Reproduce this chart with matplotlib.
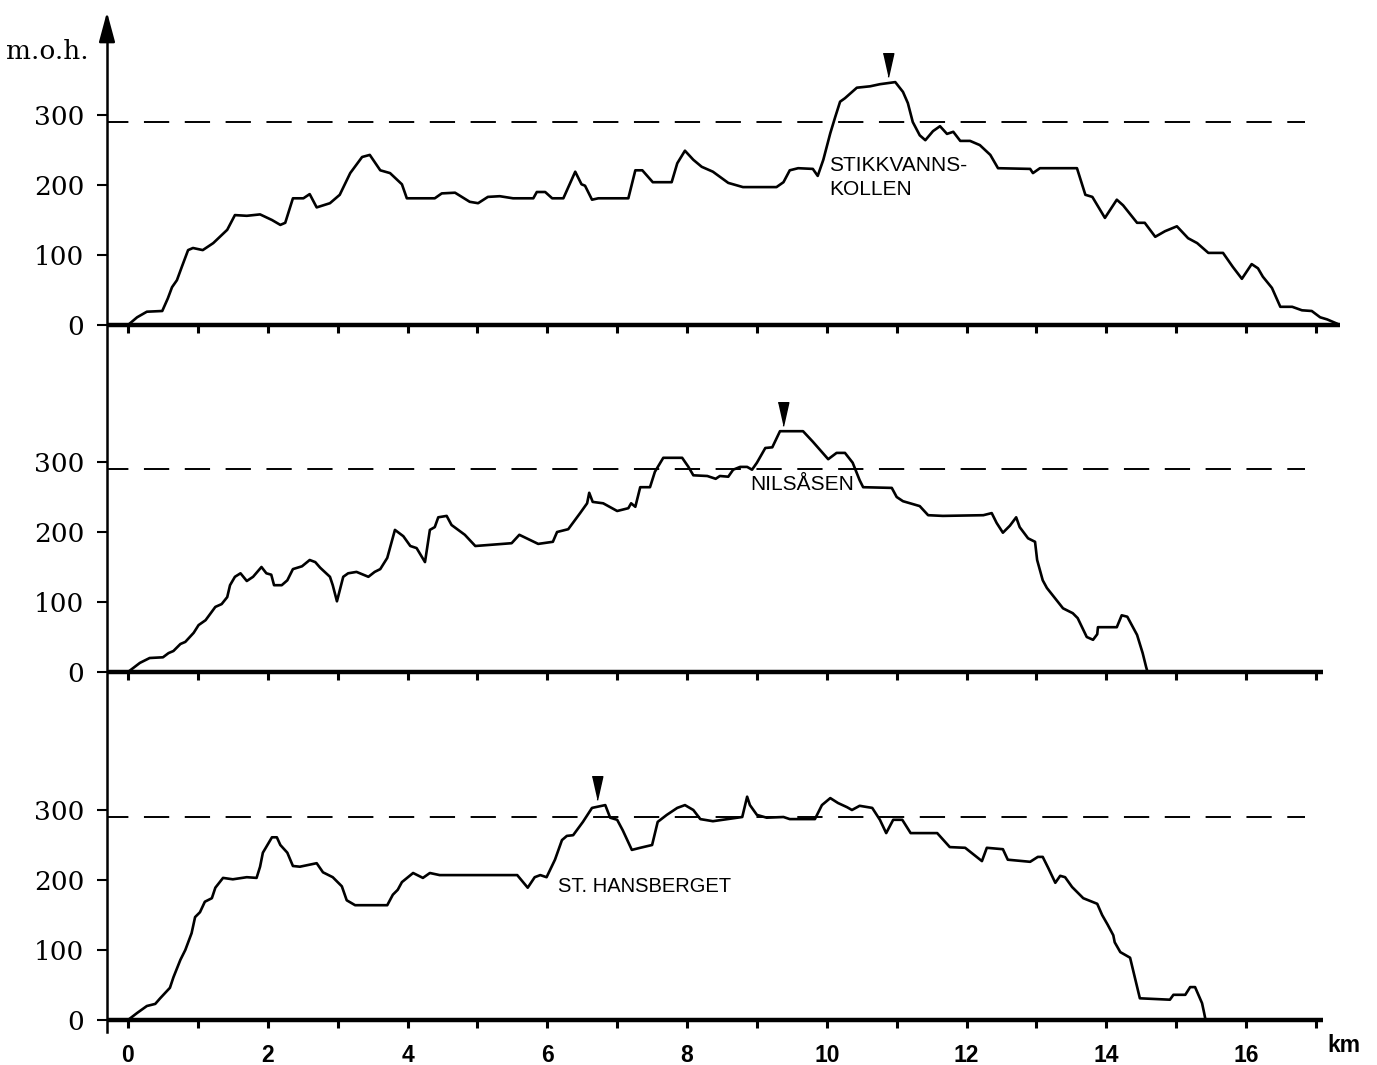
import matplotlib.pyplot as plt
from matplotlib import transforms

# Profiler (km langs profilet, meter over havet)
top_km = [0, 0.13, 0.27, 0.49, 0.57, 0.63, 0.70, 0.77, 0.86, 0.93,
          1.07, 1.22, 1.42, 1.53, 1.70, 1.89, 2.06, 2.18, 2.25, 2.36,
          2.51, 2.60, 2.70, 2.89, 3.03, 3.18, 3.35, 3.46, 3.61, 3.75,
          3.92, 3.99, 4.39, 4.49, 4.68, 4.89, 5.01, 5.15, 5.32, 5.51,
          5.80, 5.85, 5.97, 6.07, 6.23, 6.40, 6.49, 6.54, 6.64, 6.73,
          7.16, 7.26, 7.36, 7.51, 7.78, 7.86, 7.97, 8.09, 8.21, 8.37,
          8.59, 8.80, 9.28, 9.38, 9.47, 9.59, 9.80, 9.87, 9.95, 10.05,
          10.12, 10.19, 10.26, 10.43, 10.62, 10.76, 10.98, 11.09, 11.16, 11.23,
          11.33, 11.41, 11.52, 11.62, 11.72, 11.81, 11.91, 12.05, 12.19, 12.34,
          12.45, 12.91, 12.95, 13.05, 13.58, 13.70, 13.80, 13.98, 14.15, 14.24,
          14.44, 14.55, 14.70, 14.84, 15.01, 15.17, 15.30, 15.46, 15.67, 15.81,
          15.94, 16.08, 16.17, 16.24, 16.37, 16.49, 16.66, 16.80, 16.94, 17.06,
          17.16, 17.30]
top_m = [0, 11, 19, 20, 38, 54, 64, 83, 107, 110,
         107, 117, 136, 157, 156, 158, 150, 143, 146, 181,
         181, 187, 168, 174, 186, 217, 240, 243, 221, 217,
         201, 181, 181, 188, 189, 176, 174, 183, 184, 181,
         181, 190, 190, 181, 181, 219, 201, 199, 179, 181,
         181, 221, 221, 204, 204, 231, 249, 236, 226, 219,
         203, 197, 197, 204, 221, 224, 223, 213, 236, 274,
         297, 319, 324, 339, 341, 344, 347, 333, 317, 290,
         271, 264, 277, 284, 273, 276, 263, 263, 257, 243,
         224, 223, 217, 224, 224, 186, 183, 153, 179, 171,
         146, 146, 126, 134, 141, 124, 117, 103, 103, 83,
         66, 87, 81, 69, 53, 26, 26, 21, 20, 11,
         8, 2]

mid_km = [0, 0.17, 0.31, 0.50, 0.58, 0.65, 0.75, 0.82, 0.94, 1.01,
          1.11, 1.25, 1.34, 1.42, 1.46, 1.53, 1.61, 1.70, 1.79, 1.91,
          1.98, 2.05, 2.09, 2.20, 2.28, 2.36, 2.49, 2.60, 2.68, 2.75,
          2.89, 2.93, 2.99, 3.08, 3.15, 3.27, 3.44, 3.53, 3.61, 3.71,
          3.82, 3.94, 4.04, 4.13, 4.25, 4.32, 4.39, 4.44, 4.56, 4.63,
          4.82, 4.97, 5.49, 5.60, 5.87, 6.08, 6.14, 6.30, 6.47, 6.57,
          6.60, 6.65, 6.80, 7.00, 7.16, 7.20, 7.26, 7.33, 7.47, 7.54,
          7.66, 7.93, 8.02, 8.09, 8.29, 8.41, 8.47, 8.59, 8.66, 8.76,
          8.86, 8.93, 9.00, 9.12, 9.22, 9.33, 9.66, 9.80, 10.02, 10.14,
          10.26, 10.37, 10.47, 10.52, 10.93, 11.00, 11.09, 11.33, 11.45, 11.66,
          12.24, 12.36, 12.43, 12.52, 12.62, 12.71, 12.76, 12.88, 12.98, 13.01,
          13.09, 13.15, 13.38, 13.52, 13.59, 13.72, 13.81, 13.87, 13.88, 14.15,
          14.22, 14.30, 14.44, 14.52, 14.57, 14.59]
mid_m = [0, 13, 20, 21, 27, 30, 40, 43, 56, 67,
         74, 93, 97, 107, 124, 136, 141, 130, 136, 150,
         141, 139, 124, 124, 131, 147, 151, 160, 157, 149,
         136, 124, 101, 136, 141, 143, 136, 143, 147, 163,
         203, 194, 180, 177, 157, 203, 207, 221, 223, 210,
         196, 180, 184, 196, 183, 186, 200, 204, 227, 241,
         256, 243, 241, 230, 234, 241, 236, 264, 264, 286,
         306, 306, 293, 281, 280, 276, 280, 279, 289, 293,
         293, 289, 299, 320, 321, 344, 344, 329, 304, 313,
         313, 299, 274, 264, 263, 250, 244, 237, 224, 223,
         224, 227, 213, 199, 209, 221, 207, 191, 186, 160,
         131, 120, 91, 84, 77, 50, 46, 54, 64, 64,
         81, 79, 53, 27, 7, 0]

bot_km = [0, 0.13, 0.27, 0.39, 0.46, 0.60, 0.65, 0.75, 0.82, 0.91,
          0.96, 1.03, 1.10, 1.20, 1.25, 1.36, 1.50, 1.70, 1.84, 1.89,
          1.93, 2.06, 2.13, 2.18, 2.28, 2.36, 2.46, 2.70, 2.79, 2.93,
          3.06, 3.13, 3.25, 3.71, 3.79, 3.86, 3.92, 4.08, 4.22, 4.32,
          4.46, 5.57, 5.72, 5.82, 5.90, 5.99, 6.11, 6.21, 6.28, 6.37,
          6.51, 6.64, 6.83, 6.90, 7.00, 7.08, 7.21, 7.33, 7.50, 7.58,
          7.71, 7.86, 7.97, 8.09, 8.19, 8.37, 8.79, 8.86, 8.90, 9.00,
          9.14, 9.38, 9.47, 9.83, 9.93, 10.05, 10.16, 10.29, 10.36, 10.47,
          10.65, 10.76, 10.85, 10.95, 11.08, 11.20, 11.58, 11.76, 11.98, 12.22,
          12.29, 12.52, 12.59, 12.91, 13.02, 13.09, 13.17, 13.27, 13.34, 13.41,
          13.51, 13.67, 13.87, 13.94, 14.02, 14.10, 14.12, 14.20, 14.34, 14.48,
          14.91, 14.96, 15.13, 15.20, 15.27, 15.37, 15.40, 15.42]
bot_m = [0, 10, 20, 23, 31, 46, 61, 86, 100, 124,
         147, 154, 169, 174, 189, 203, 201, 204, 203, 219,
         239, 261, 261, 250, 239, 220, 219, 224, 211, 204,
         191, 171, 164, 164, 179, 186, 197, 210, 203, 210,
         207, 207, 189, 204, 207, 204, 229, 257, 263, 264,
         283, 303, 307, 289, 286, 271, 243, 246, 250, 283,
         293, 303, 307, 300, 287, 284, 290, 319, 307, 293,
         289, 290, 287, 287, 307, 317, 310, 304, 300, 306,
         303, 286, 267, 286, 286, 267, 267, 247, 246, 227,
         246, 244, 229, 226, 233, 233, 217, 196, 206, 204,
         190, 174, 166, 150, 136, 121, 111, 97, 89, 31,
         29, 36, 36, 47, 47, 24, 10, 0]

summit_km = [10.88, 9.37, 6.71]
marine_limit = 290
y_ticks = [0, 100, 200, 300]
x_ticks = list(range(0, 18))

# layout i piksler (1377x1065)
W, H = 1377, 1065
x0_px, x1_px = 107, 1340
km0_px, px_per_km = 128, 69.88
px_per_m = 0.70
panel_px = [(20, 325), (325, 672), (672, 1020)]   # (topp, null-linje)
xlim = ((x0_px - km0_px) / px_per_km, (x1_px - km0_px) / px_per_km)

serif = "DejaVu Serif"
sans = "Liberation Sans"

fig = plt.figure(figsize=(W / 100, H / 100), dpi=100)

profiles = [(top_km, top_m), (mid_km, mid_m), (bot_km, bot_m)]
axes = []
for i, ((km, m), (ytop, ybase)) in enumerate(zip(profiles, panel_px)):
    ax = fig.add_axes([x0_px / W, 1 - ybase / H, (x1_px - x0_px) / W, (ybase - ytop) / H])
    ax.set_facecolor("none")
    ax.set_xlim(*xlim)
    ax.set_ylim(0, (ybase - ytop) / px_per_m)
    for s in ("top", "right", "left"):
        ax.spines[s].set_visible(False)
    ax.spines["bottom"].set_linewidth(3.2)
    ax.spines["bottom"].set_bounds(xlim[0], xlim[1] if i == 0 else 17.1)
    ax.spines["bottom"].set_capstyle("butt")

    ax.plot(km, m, color="black", lw=1.9, solid_joinstyle="round", clip_on=False)
    ax.plot([xlim[0], 16.84], [marine_limit, marine_limit], color="black", lw=1.4,
            linestyle=(2, (13, 8)))

    # toppmarkering (pil ned)
    sk = summit_km[i]
    peak = max(v for k, v in zip(km, m) if abs(k - sk) < 0.2)
    tr = transforms.offset_copy(ax.transData, fig=fig, x=0, y=12.5, units="points")
    ax.plot([sk], [peak], marker=[(-0.45, 1), (0.45, 1), (0, -1)], markersize=17,
            color="black", transform=tr, clip_on=False)

    ax.set_xticks(x_ticks)
    ax.tick_params(axis="x", direction="out", length=6, width=2.2, pad=11,
                   labelbottom=(i == 2))
    if i == 2:
        ax.set_xticklabels([str(k) if k % 2 == 0 and k <= 16 else "" for k in x_ticks],
                           fontfamily=sans, fontweight="bold", fontsize=16.5)
    ax.set_yticks(y_ticks)
    ax.set_yticklabels([str(v) for v in y_ticks], fontfamily=serif, fontsize=19)
    ax.tick_params(axis="y", direction="out", length=7.5, width=1.5, pad=9)
    axes.append(ax)

# navn på toppene
lab = dict(fontfamily=sans, ha="left", va="baseline")
axes[0].text(10.03, 220, "STIKKVANNS-", fontsize=15, **lab)
axes[0].text(10.03, 186, "KOLLEN", fontsize=15, **lab)
axes[1].text(8.90, 260, "NILSÅSEN", fontsize=15, **lab)
axes[2].text(6.15, 183, "ST. HANSBERGET", fontsize=14.5, **lab)

# felles y-akse med pil
fig.add_artist(plt.Line2D([x0_px / W, x0_px / W], [1 - 1032 / H, 1 - 30 / H],
                          color="black", lw=1.8))
axes[0].annotate("", xy=(x0_px / W, 1 - 12 / H), xycoords="figure fraction",
                 xytext=(x0_px / W, 1 - 40 / H), textcoords="figure fraction",
                 arrowprops=dict(arrowstyle="-|>,head_length=1.3,head_width=0.35",
                                 color="black", lw=1.8, mutation_scale=14,
                                 shrinkA=0, shrinkB=0))

fig.text(6 / W, 1 - 59 / H, "m.o.h.", fontfamily=serif, fontsize=19,
         ha="left", va="baseline")
fig.text(1327 / W, 1 - 1046 / H, "km", fontfamily=sans, fontsize=16.5,
         fontweight="bold", ha="left", va="center")

fig.savefig("out.png", dpi=100, facecolor="white")
